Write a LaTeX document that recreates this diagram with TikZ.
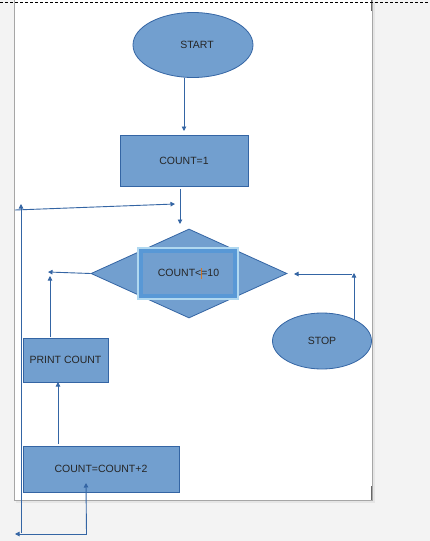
\documentclass[tikz,border=0pt]{standalone}
\usepackage{fontspec}
\setmainfont{Liberation Sans}
\usetikzlibrary{arrows.meta,shapes.geometric}
\definecolor{shapefill}{RGB}{114,159,207}
\definecolor{shapeline}{RGB}{52,101,164}
\definecolor{pagebg}{RGB}{243,243,243}
\definecolor{selouter}{RGB}{176,216,240}
\definecolor{selband}{RGB}{88,152,214}
\definecolor{cursorcol}{RGB}{214,120,40}
\begin{document}
\begin{tikzpicture}[x=1pt,y=-1pt,
  font=\fontsize{10.5}{12}\selectfont,
  shp/.style={fill=shapefill,draw=shapeline,line width=0.8pt,inner sep=0pt,text=black!85},
  term/.style={shp,ellipse},
  proc/.style={shp,rectangle},
  conn/.style={draw=shapeline,line width=0.9pt,-{Triangle[length=4.5pt,width=4.5pt]}},
  lbl/.style={text=black!85,inner sep=0pt}]
\useasboundingbox (0,0) rectangle (430,541);
% page background
\fill[pagebg] (0,0) rectangle (430,541);
\fill[black!10] (16,2) rectangle (375,503);
\fill[white] (14,0) rectangle (372,500);
\draw[black!35,line width=1pt] (14.5,0) -- (14.5,500.5) -- (372.5,500.5) -- (372.5,0);
\draw[black!60,line width=1pt] (371.5,0) -- (371.5,11);
\draw[black!60,line width=1pt] (371.5,486) -- (371.5,500);
\draw[black,dash pattern=on 3pt off 2pt,line width=0.6pt] (0,2.5) -- (430,2.5);
% shapes
\node[term,minimum width=120pt,minimum height=65pt] (start) at (193,45) {\hspace*{8pt}START};
\node[proc,minimum width=128pt,minimum height=51pt] (c1) at (184,160.5) {COUNT=1};
\node[shp,diamond,minimum width=196pt,minimum height=89pt,aspect=2.2] (dia) at (189,273.5) {};
\fill[selouter] (137,247) rectangle (239,300);
\fill[shapefill] (140,250) rectangle (236,297);
\draw[selband,line width=4pt] (141,251) rectangle (235,296);
\node[lbl] (dtext) at (188.5,273) {COUNT<\makebox[0pt]{\textcolor{cursorcol}{\rule[-2pt]{0.7pt}{11pt}}}=10};
\node[proc,minimum width=85pt,minimum height=44pt] (pc) at (65.5,360) {PRINT COUNT};
\node[proc,minimum width=156pt,minimum height=46pt] (inc) at (101,469) {COUNT=COUNT+2};
\node[term,minimum width=99pt,minimum height=56pt] (stop) at (322,341) {STOP};
% connector end points
\coordinate (a1e) at (184,131);
\coordinate (a2s) at (180,189);
\coordinate (a2e) at (180,224);
\coordinate (a3s) at (15,210);
\coordinate (a3e) at (175,204);
\coordinate (a4s) at (21,533);
\coordinate (a4e) at (21,204);
\coordinate (a5s) at (86.5,534);
\coordinate (a5e) at (15,534);
\coordinate (a6e) at (86,483);
\coordinate (a7s) at (58,444);
\coordinate (a7e) at (58,382);
\coordinate (a8s) at (50,337);
\coordinate (a8e) at (50,276);
\coordinate (a9e) at (48,272);
\coordinate (a10s) at (354,320);
\coordinate (a10e) at (354,273);
\coordinate (a11s) at (352,274);
\coordinate (a11e) at (294,274);
% connectors
\draw[conn] (start.south -| a1e) -- (a1e);
\draw[conn] (a2s) -- (a2e);
\draw[conn] (a3s) -- (a3e);
\draw[conn] (a4s) -- (a4e);
\draw[conn] (a5s) -- (a5e);
\draw[conn] (a5s) -- (a6e);
\draw[conn] (a7s) -- (a7e);
\draw[conn] (a8s) -- (a8e);
\draw[conn] (dia.west) -- (a9e);
\draw[conn] (a10s) -- (a10e);
\draw[conn] (a11s) -- (a11e);
\end{tikzpicture}
\end{document}
